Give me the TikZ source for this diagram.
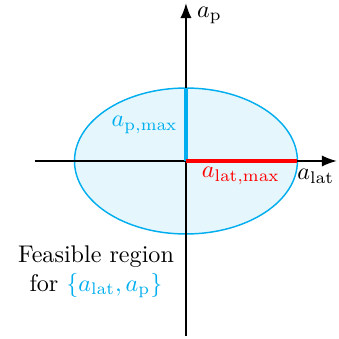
\documentclass[tikz,border=0pt]{standalone}
\usepackage{amsmath,amssymb}
\usepackage{tikz}
\usetikzlibrary{arrows.meta,positioning,calc}
\usepackage{xcolor}
\definecolor{feasc}{HTML}{00AEEF}
\definecolor{limitc}{HTML}{FF0000}

\begin{document}
\begin{tikzpicture}
  \useasboundingbox (-2.711,-2.595) rectangle (2.230,2.347);
  % feasible region
  \filldraw[feasc, fill=feasc!10, semithick] (0,0) ellipse (1.625 and 1.064);
  % axes
  \coordinate (xmin) at (-2.201,0);
  \coordinate (xmax) at (2.201,0);
  \coordinate (ymin) at (0,-2.551);
  \coordinate (ymax) at (0,2.303);
  \coordinate (orig) at (0,0);
  \coordinate (plim) at (0,1.064);
  \coordinate (latlim) at (1.625,0);
  \draw[thick, -{Latex[length=2.2mm]}] (xmin) -- (xmax);
  \draw[thick, -{Latex[length=2.2mm]}] (ymin) -- (ymax);
  \node[anchor=north east, inner sep=1pt] (alat) at (2.201,-0.08) {$a_{\mathrm{lat}}$};
  \node[anchor=west, inner sep=1pt] (ap) at (0.12,2.12) {$a_{\mathrm{p}}$};
  % limits
  \draw[feasc, line width=2pt] (orig) -- (plim);
  \draw[limitc, line width=2pt] (orig) -- (latlim);
  \node[anchor=east, text=feasc, inner sep=1pt] (apmax) at (-0.08,0.525) {$a_{\mathrm{p,max}}$};
  \node[text=limitc, inner sep=1pt] (alatmax) at (0.80,-0.22) {$a_{\mathrm{lat,max}}$};
  \node[align=center, inner sep=1pt] (feas) at (-1.312,-1.618)
    {Feasible region\\for \textcolor{feasc}{$\{a_{\mathrm{lat}},a_{\mathrm{p}}\}$}};
\end{tikzpicture}
\end{document}
